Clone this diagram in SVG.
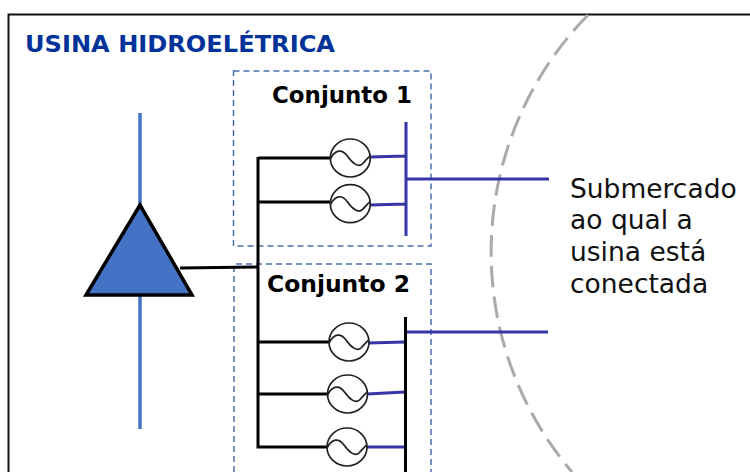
<svg xmlns="http://www.w3.org/2000/svg" width="750" height="472" viewBox="0 0 750 472">
<style>
text{font-family:"DejaVu Sans",Verdana,sans-serif}
.title{font-size:23px;font-weight:bold;fill:#003399}
.set{font-size:23px;font-weight:bold;fill:#000}
.sub{font-size:26.500px;fill:#111}
.box{fill:none;stroke:#4a6fae;stroke-width:1.500;stroke-dasharray:6 4}
.blk{fill:none;stroke:#000;stroke-width:3}
.ind{fill:none;stroke:#3535a8;stroke-width:3}
.shaft{fill:none;stroke:#4472c4;stroke-width:3.500}
.gen{fill:#fff;stroke:#222;stroke-width:1.700}
.sine{fill:none;stroke:#222;stroke-width:1.700}
</style>
<defs>
<g id="g"><ellipse class="gen" rx="20" ry="19"/><path class="sine" d="M-20 1C-15 -9 -8 -9 -3 -2S8 10 12 6S17 0 20 -2"/></g>
</defs>
<rect width="750" height="472" fill="#fff"/>
<path id="frame" d="M750 14.500H8.500V472" fill="none" stroke="#111" stroke-width="2"/>
<text class="title" x="25" y="52" textLength="310" lengthAdjust="spacingAndGlyphs">USINA HIDROELÉTRICA</text>
<path id="boundary" d="M588 15A339 339 0 0 0 572 472" fill="none" stroke="#aaa" stroke-width="3" stroke-dasharray="21.500 9.200"/>
<g id="conjunto-1">
<rect class="box" x="233.500" y="71" width="197.500" height="175"/>
<text class="set" x="272" y="103" textLength="140" lengthAdjust="spacingAndGlyphs">Conjunto 1</text>
</g>
<g id="conjunto-2">
<path class="box" d="M234 472V264H431V472"/>
<text class="set" x="267" y="292" textLength="143" lengthAdjust="spacingAndGlyphs">Conjunto 2</text>
</g>
<g id="connectors">
<path class="shaft" d="M140 113V205M140 295V429"/>
<path class="blk" d="M180 268L258 267M258 157V447H328M258 158H331M258 202H331M258 342H330M258 394H328"/>
<path class="ind" d="M370 157L406 156M370 205L406 204M406 122V236M406 179H549"/>
<path class="ind" d="M368 343L405 342M367 394L405 392M367 447L405 447M406 332H548"/>
<path d="M405.500 317V472" fill="none" stroke="#000" stroke-width="3"/>
</g>
<g id="turbine"><polygon points="140,205 86,295 192,295" fill="#4472c4" stroke="#000" stroke-width="3.500"/></g>
<g id="gerador-1"><use href="#g" x="350.300" y="158"/></g>
<g id="gerador-2"><use href="#g" x="350.300" y="203.700"/></g>
<g id="gerador-3"><use href="#g" x="349" y="342"/></g>
<g id="gerador-4"><use href="#g" x="347.500" y="394"/></g>
<g id="gerador-5"><use href="#g" x="347" y="447"/></g>
<g id="submercado">
<text class="sub" x="570" y="198">Submercado</text>
<text class="sub" x="570" y="229">ao qual a</text>
<text class="sub" x="570" y="261">usina está</text>
<text class="sub" x="570" y="293">conectada</text>
</g>
</svg>
